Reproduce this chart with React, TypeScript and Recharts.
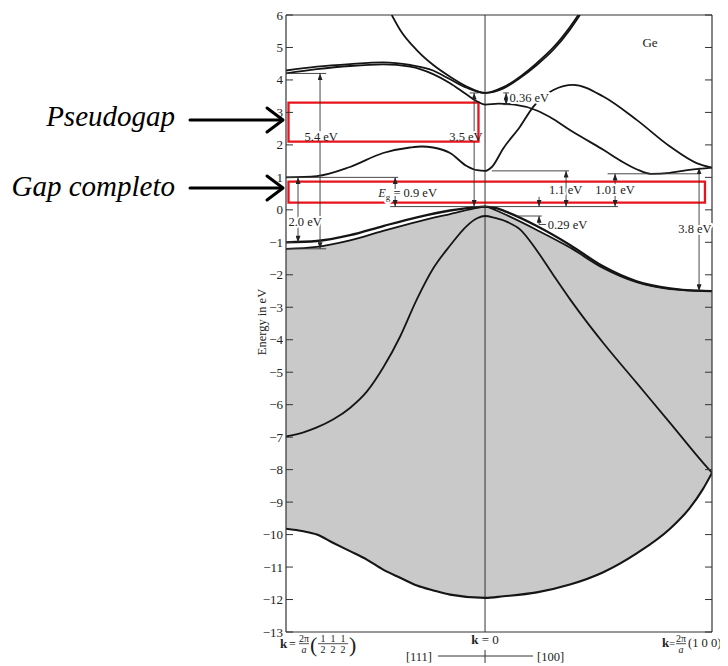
import React from "react";
import {
  ComposedChart,
  Line,
  Area,
  XAxis,
  YAxis,
  ReferenceLine,
  ReferenceArea,
  ReferenceDot,
} from "recharts";

const SERIF = '"Liberation Serif", "Times New Roman", serif';
const INK = "#151515";
const SHADE = "#c9c9c9";

// k in units of 2π/a: negative side runs toward L [111], positive toward X [100]
const K_L = -0.877;
const K_X = 1;
const kTicks = [K_L, 0, K_X];
const energyTicks = [-13, -12, -11, -10, -9, -8, -7, -6, -5, -4, -3, -2, -1, 0, 1, 2, 3, 4, 5, 6];

// quoted gaps (eV)
const EG = 0.9;
const GAP_GAMMA = 1.1;
const GAP_DELTA = 1.01;
const SPLIT_OFF = 0.29;
const GAP_L_LOW = 2.0;
const GAP_L_HIGH = 5.4;
const GAP_GAMMA_HIGH = 3.5;
const SPLIT_GAMMA_HIGH = 0.36;
const GAP_X = 3.8;

// band energies at symmetry points, tied to the quoted gaps
const VBM = 0.1;
const CB_L = VBM + EG;
const CB_G = VBM + GAP_GAMMA;
const CB_D = VBM + GAP_DELTA;
const SO_G = VBM - SPLIT_OFF;
const UP_G = VBM + GAP_GAMMA_HIGH;
const UP_G2 = UP_G - SPLIT_GAMMA_HIGH;
const VB_L_HH = CB_L - GAP_L_LOW;
const VB_L_LH = -1.2;
const UP_L = VB_L_LH + GAP_L_HIGH;
const VB_X = -2.5;
const CB_X = VB_X + GAP_X;

type P = [number, number];

const band1: P[] = [
  [K_L, -9.82], [-0.8, -9.9], [-0.741, -10.0], [-0.668, -10.26], [-0.595, -10.51],
  [-0.521, -10.77], [-0.449, -11.08], [-0.374, -11.33], [-0.3, -11.57], [-0.228, -11.72],
  [-0.154, -11.85], [0, -11.95], [0.081, -11.9], [0.228, -11.78], [0.374, -11.54],
  [0.521, -11.16], [0.668, -10.58], [0.815, -9.82], [0.9, -9.2], [0.96, -8.6], [K_X, -8.1],
];

const band2: P[] = [
  [K_L, -6.98], [-0.8, -6.85], [-0.741, -6.7], [-0.668, -6.45], [-0.595, -6.1],
  [-0.521, -5.6], [-0.448, -4.85], [-0.374, -3.9], [-0.3, -2.75], [-0.228, -1.8],
  [-0.154, -1.1], [-0.081, -0.5], [-0.035, -0.26], [0, SO_G], [0.04, -0.24],
  [0.1, -0.38], [0.154, -0.6], [0.228, -1.25], [0.3, -2.0], [0.374, -2.75],
  [0.448, -3.45], [0.521, -4.1], [0.668, -5.33], [0.815, -6.56], [0.962, -7.8], [K_X, -8.1],
];

const heavyHole: P[] = [
  [K_L, VB_L_HH], [-0.741, -0.96], [-0.595, -0.78], [-0.449, -0.5], [-0.3, -0.23],
  [-0.154, -0.02], [-0.06, 0.07], [0, VBM], [0.05, 0.05], [0.1, -0.08], [0.228, -0.5],
  [0.374, -1.08], [0.52, -1.74], [0.668, -2.2], [0.815, -2.42], [0.92, -2.49], [K_X, VB_X],
];

const lightHole: P[] = [
  [K_L, VB_L_LH], [-0.741, -1.14], [-0.595, -0.94], [-0.449, -0.65], [-0.3, -0.37],
  [-0.154, -0.13], [-0.06, 0.02], [0, VBM], [0.05, -0.02], [0.1, -0.18], [0.228, -0.62],
  [0.374, -1.16], [0.52, -1.79], [0.668, -2.23], [0.815, -2.44], [K_X, VB_X],
];

const cond1: P[] = [
  [K_L, CB_L], [-0.741, 1.04], [-0.595, 1.32], [-0.449, 1.75], [-0.33, 1.92],
  [-0.28, 1.95], [-0.229, 1.92], [-0.154, 1.75], [-0.081, 1.35], [-0.035, 1.22],
  [0, CB_G], [0.03, 1.32], [0.081, 1.9], [0.154, 2.56], [0.213, 3.18], [0.301, 3.69],
  [0.389, 3.85], [0.521, 3.49], [0.668, 2.77], [0.815, 1.95], [0.932, 1.44], [K_X, CB_X],
];

const cond2: P[] = [
  [K_L, UP_L], [-0.741, 4.33], [-0.595, 4.43], [-0.449, 4.48], [-0.33, 4.41],
  [-0.229, 4.18], [-0.154, 3.9], [-0.081, 3.55], [-0.03, 3.32], [0, UP_G2],
  [0.06, 3.27], [0.13, 3.24], [0.228, 3.06], [0.3, 2.8], [0.374, 2.46], [0.448, 2.15],
  [0.521, 1.85], [0.6, 1.5], [0.668, 1.25], [0.73, CB_D], [0.815, 1.14], [0.9, 1.23], [K_X, CB_X],
];

const cond3: P[] = [
  [K_L, 4.29], [-0.741, 4.41], [-0.595, 4.49], [-0.449, 4.54], [-0.33, 4.46],
  [-0.229, 4.29], [-0.154, 4.02], [-0.081, 3.76], [0, UP_G], [0.081, 3.74],
  [0.154, 4.06], [0.228, 4.46], [0.301, 4.93], [0.374, 5.55], [0.418, 6],
];

const cond4: P[] = [
  [-0.411, 6], [-0.374, 5.54], [-0.301, 4.92], [-0.228, 4.46], [-0.154, 4.1],
  [-0.081, 3.8], [0, UP_G], [0.081, 3.78], [0.228, 4.52], [0.301, 5.0], [0.374, 5.63], [0.411, 6],
];

const pts = (pairs: P[]) => pairs.map(([k, E]) => ({ k, E }));

const fmt = (v: number) => `${v.toFixed(v === 1.01 || v === 0.29 || v === 0.36 ? 2 : 1)} eV`;

const ETick = ({ x, y, payload }: any) => {
  const v = payload.value as number;
  return (
    <g>
      <line x1={x} x2={x + 7} y1={y} y2={y} stroke="#333" strokeWidth={1} />
      <text x={x - 3} y={y} dy="0.35em" textAnchor="end" fontFamily={SERIF} fontSize={13} fill="#222">
        {v < 0 ? `\u2212${-v}` : v}
      </text>
    </g>
  );
};

const RTick = ({ x, y }: any) => <line x1={x - 7} x2={x} y1={y} y2={y} stroke="#333" strokeWidth={1} />;

// stacked fraction, bar centred on (x, y)
const Frac = ({ x, y, top, bottom, size = 10, italicBottom = false }: any) => (
  <g fontFamily={SERIF} fontSize={size} fill="#222">
    <text x={x} y={y - 2} textAnchor="middle">{top}</text>
    <line x1={x - size * 0.5} x2={x + size * 0.5} y1={y} y2={y} stroke="#222" strokeWidth={0.8} />
    <text x={x} y={y + size - 1} textAnchor="middle" fontStyle={italicBottom ? "italic" : "normal"}>
      {bottom}
    </text>
  </g>
);

const KTick = ({ x, y, payload }: any) => {
  const v = payload.value as number;
  const txt = { fontFamily: SERIF, fill: "#222" };
  if (v === 0) {
    return (
      <g>
        <text x={x} y={y + 12} textAnchor="middle" fontSize={13} {...txt}>
          <tspan fontWeight="bold">k</tspan> = 0
        </text>
        <text x={x - 53} y={y + 29} textAnchor="end" fontSize={12.5} {...txt}>[111]</text>
        <line x1={x - 47} x2={x + 48} y1={y + 24} y2={y + 24} stroke="#333" strokeWidth={1} />
        <line x1={x} x2={x} y1={y + 18} y2={y + 31} stroke="#333" strokeWidth={1} />
        <text x={x + 52} y={y + 29} fontSize={12.5} {...txt}>[100]</text>
      </g>
    );
  }
  if (v < 0) {
    return (
      <g>
        <text x={x - 6} y={y + 16} fontSize={13} fontWeight="bold" {...txt}>k</text>
        <text x={x + 3} y={y + 16} fontSize={12} {...txt}>=</text>
        <Frac x={x + 18} y={y + 11.7} top="2π" bottom="a" italicBottom />
        <text x={x + 24} y={y + 20} fontSize={22} {...txt}>(</text>
        <Frac x={x + 37} y={y + 11.7} top="1" bottom="2" size={10} />
        <Frac x={x + 47} y={y + 11.7} top="1" bottom="2" size={10} />
        <Frac x={x + 57} y={y + 11.7} top="1" bottom="2" size={10} />
        <text x={x + 63} y={y + 20} fontSize={22} {...txt}>)</text>
      </g>
    );
  }
  return (
    <g>
      <text x={x - 50} y={y + 15} fontSize={13} fontWeight="bold" {...txt}>k</text>
      <text x={x - 43} y={y + 15} fontSize={11} {...txt}>=</text>
      <Frac x={x - 31} y={y + 11.7} top="2π" bottom="a" italicBottom />
      <text x={x - 24} y={y + 15} fontSize={12.5} {...txt}>(1 0 0)</text>
    </g>
  );
};

// thin dimension line, optionally with arrowheads
function seg(key: string, k1: number, e1: number, k2: number, e2: number, start = false, end = false) {
  return (
    <ReferenceLine
      key={key}
      segment={[{ x: k1, y: e1 }, { x: k2, y: e2 }]}
      ifOverflow="visible"
      shape={(p: any) => (
        <line
          x1={p.x1}
          y1={p.y1}
          x2={p.x2}
          y2={p.y2}
          stroke="#333"
          strokeWidth={0.9}
          markerStart={start ? "url(#dimArrow)" : undefined}
          markerEnd={end ? "url(#dimArrow)" : undefined}
        />
      )}
    />
  );
}

function note(
  key: string,
  k: number,
  e: number,
  content: React.ReactNode,
  anchor = "middle",
  size = 12.5,
  halo = true
) {
  return (
    <ReferenceDot
      key={key}
      x={k}
      y={e}
      r={0}
      ifOverflow="visible"
      shape={(p: any) => (
        <text
          x={p.cx}
          y={p.cy}
          dy="0.35em"
          textAnchor={anchor}
          fontFamily={SERIF}
          fontSize={size}
          fill="#222"
          stroke={halo ? "#fff" : "none"}
          strokeWidth={4}
          strokeLinejoin="round"
          paintOrder="stroke"
        >
          {content}
        </text>
      )}
    />
  );
}

const bands = [band2, heavyHole, lightHole, cond1, cond2, cond3, cond4];

export default function App() {
  return (
    <div style={{ position: "relative", width: 720, height: 658 }}>
      <ComposedChart width={720} height={658} margin={{ top: 7, right: 6, bottom: 0, left: 248 }}>
        <Area
          data={pts(lightHole)}
          dataKey="E"
          type="monotone"
          baseValue={-13}
          fill={SHADE}
          fillOpacity={1}
          stroke="none"
          isAnimationActive={false}
        />
        <Area
          data={pts(band1)}
          dataKey="E"
          type="monotone"
          baseValue={-13}
          fill="#fff"
          fillOpacity={1}
          stroke="none"
          isAnimationActive={false}
        />
        <XAxis
          type="number"
          dataKey="k"
          domain={[K_L, K_X]}
          allowDataOverflow
          ticks={kTicks}
          interval={0}
          tickSize={0}
          tickMargin={0}
          tickLine={false}
          tick={<KTick />}
          height={34}
          axisLine={{ stroke: "#333", strokeWidth: 1.2 }}
        />
        <YAxis
          type="number"
          domain={[-13, 6]}
          allowDataOverflow
          ticks={energyTicks}
          interval={0}
          width={30}
          tickSize={0}
          tickMargin={0}
          tickLine={false}
          tick={<ETick />}
          axisLine={{ stroke: "#333", strokeWidth: 1.2 }}
        />
        <YAxis
          yAxisId="r"
          orientation="right"
          type="number"
          domain={[-13, 6]}
          allowDataOverflow
          ticks={energyTicks}
          interval={0}
          width={10}
          tickSize={0}
          tickMargin={0}
          tickLine={false}
          tick={<RTick />}
          axisLine={{ stroke: "#333", strokeWidth: 1.2 }}
        />
        <ReferenceLine y={6} stroke="#333" strokeWidth={1.2} />
        <ReferenceLine x={0} stroke="#333" strokeWidth={1} />

        <Line
          data={pts(band1)}
          dataKey="E"
          type="monotone"
          stroke={INK}
          strokeWidth={2.1}
          dot={false}
          isAnimationActive={false}
        />
        {bands.map((b, i) => (
          <Line
            key={`band-${i}`}
            data={pts(b)}
            dataKey="E"
            type="monotone"
            stroke={INK}
            strokeWidth={i === 1 ? 2.3 : 1.8}
            dot={false}
            isAnimationActive={false}
          />
        ))}

        {/* dimension lines for the quoted gaps; the two long ones break around their labels */}
        {seg("l54a", -0.727, 2.42, -0.727, UP_L, false, true)}
        {seg("l54b", -0.727, VB_L_LH, -0.727, 2.1, true, false)}
        {seg("l54t", K_L, UP_L, -0.7, UP_L)}
        {seg("l54u", K_L, VB_L_LH, -0.7, VB_L_LH)}
        {seg("l20", -0.824, VB_L_HH, -0.824, CB_L, true, true)}
        {seg("egt", K_L, CB_L, -0.383, CB_L)}
        {seg("egb", -0.418, VBM, 0, VBM)}
        {seg("eg", -0.396, VBM, -0.396, CB_L, true, true)}
        {seg("g35a", -0.048, 2.42, -0.048, UP_G, false, true)}
        {seg("g35b", -0.048, VBM, -0.048, 2.1, true, false)}
        {seg("g35t", -0.068, UP_G, -0.028, UP_G)}
        {seg("g36", 0.093, UP_G2, 0.093, UP_G, true, true)}
        {seg("g36t", 0.08, UP_G, 0.106, UP_G)}
        {seg("g36b", 0.08, UP_G2, 0.106, UP_G2)}
        {seg("vbl", -0.066, VBM, 0.586, VBM)}
        {seg("g11t", 0.03, CB_G, 0.37, CB_G)}
        {seg("g11", 0.357, VBM, 0.357, CB_G, true, true)}
        {seg("g101t", 0.54, CB_D, 0.947, CB_D)}
        {seg("g101", 0.573, VBM, 0.573, CB_D, true, true)}
        {seg("so1", 0.238, VBM + 0.3, 0.238, VBM, false, true)}
        {seg("so2", 0.238, SO_G - 0.26, 0.238, SO_G, false, true)}
        {seg("so3", 0.238, SO_G - 0.26, 0.27, SO_G - 0.26)}
        {seg("sob", 0.14, SO_G, 0.25, SO_G)}
        {seg("x38", 0.943, VB_X, 0.943, CB_X, true, true)}

        {note("t54", -0.722, 2.25, fmt(GAP_L_HIGH), "middle", 12.5, false)}
        {note("t20", -0.793, -0.36, fmt(GAP_L_LOW))}
        {note(
          "teg",
          -0.471,
          0.53,
          <>
            <tspan fontStyle="italic">E</tspan>
            <tspan fontSize={9} dy={3}>g</tspan>
            <tspan dy={-3}> = {fmt(EG)}</tspan>
          </>,
          "start"
        )}
        {note("t35", -0.084, 2.25, fmt(GAP_GAMMA_HIGH), "middle", 12.5, false)}
        {note("t36", 0.108, 3.45, fmt(SPLIT_GAMMA_HIGH), "start")}
        {note("t11", 0.355, 0.61, fmt(GAP_GAMMA))}
        {note("t101", 0.573, 0.61, fmt(GAP_DELTA))}
        {note("t29", 0.276, SO_G - 0.26, fmt(SPLIT_OFF), "start")}
        {note("t38", 0.925, -0.58, fmt(GAP_X))}
        {note("ge", 0.727, 5.15, "Ge", "middle", 13)}

        {/* highlighted energy windows */}
        <ReferenceArea x1={-0.866} x2={-0.029} y1={2.1} y2={3.3} fill="none" stroke="#e8141c" strokeWidth={2.3} ifOverflow="visible" />
        <ReferenceArea x1={-0.866} x2={0.969} y1={0.22} y2={0.87} fill="none" stroke="#e8141c" strokeWidth={2.3} ifOverflow="visible" />
      </ComposedChart>

      <svg
        width={728}
        height={666}
        style={{ position: "absolute", left: -8, top: -8, pointerEvents: "none" }}
      >
        <defs>
          <marker
            id="dimArrow"
            viewBox="0 0 8 6"
            refX={8}
            refY={3}
            markerWidth={7}
            markerHeight={5}
            markerUnits="userSpaceOnUse"
            orient="auto-start-reverse"
          >
            <path d="M0,0 L8,3 L0,6 z" fill="#222" />
          </marker>
        </defs>
        <text
          x={262}
          y={322}
          transform="rotate(-90 262 322)"
          textAnchor="middle"
          dominantBaseline="central"
          fontFamily={SERIF}
          fontSize={12.5}
          fill="#222"
        >
          Energy in eV
        </text>
        <g fontFamily={SERIF} fontStyle="italic" fontSize={29} fill="#000" textAnchor="end">
          <text x={175} y={126}>Pseudogap</text>
          <text x={175} y={196}>Gap completo</text>
        </g>
        <g stroke="#000" strokeWidth={3} fill="none" strokeLinecap="round" strokeLinejoin="round">
          <line x1={190} y1={120} x2={282} y2={120} />
          <polyline points="267,108 283,120 267,132" />
          <line x1={190} y1={188} x2={282} y2={188} />
          <polyline points="267,176 283,188 267,200" />
        </g>
      </svg>
    </div>
  );
}
